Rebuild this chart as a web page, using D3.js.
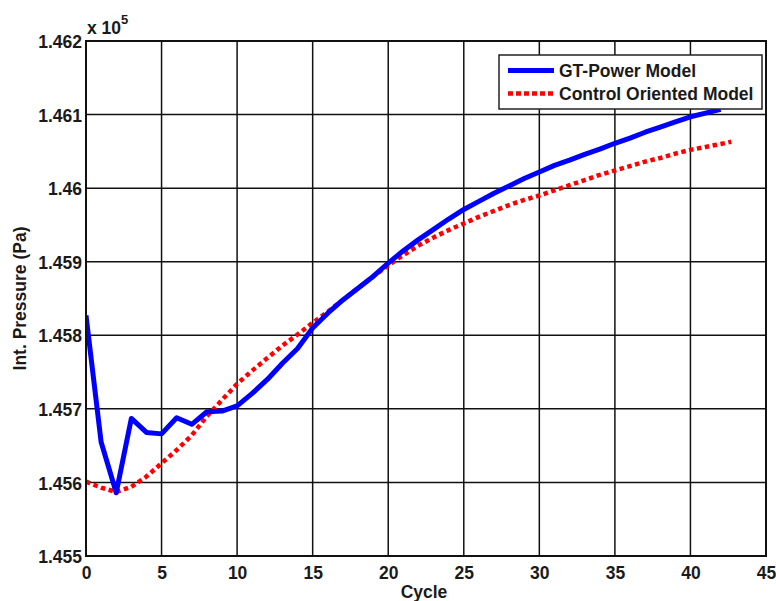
<!DOCTYPE html>
<html><head><meta charset="utf-8">
<script src="https://cdnjs.cloudflare.com/ajax/libs/d3/7.8.5/d3.min.js"></script>
<style>body{margin:0;background:#fff;} text{font-family:"Liberation Sans",Arial,sans-serif;font-weight:bold;fill:#1a1a1a;}</style>
</head><body><svg id="c" width="776" height="601"></svg>
<script>
const gtCycles = d3.range(0, 43);
const gtValues = [1.45827,1.45655,1.45586,1.45687,1.45668,1.45666,1.45688,1.45679,1.45696,1.45697,
  1.45704,1.45721,1.45740,1.45762,1.45782,1.45810,1.45830,1.45848,1.45864,1.45880,
  1.45898,1.45915,1.45930,1.45944,1.45958,1.45971,1.45982,1.45993,1.46003,1.46013,
  1.46022,1.46031,1.46038,1.46046,1.46053,1.46061,1.46068,1.46076,1.46083,1.46090,
  1.46097,1.46102,1.46107];
const coCycles = d3.range(0, 43).concat([42.7]);
const coValues = [1.45601,1.45593,1.45587,1.45594,1.45608,1.45626,1.45644,1.45664,1.45690,1.45712,
  1.45734,1.45752,1.45769,1.45786,1.45801,1.45817,1.45832,1.45848,1.45864,1.45880,
  1.45895,1.45909,1.45922,1.45933,1.45943,1.45952,1.45961,1.45969,1.45977,1.45984,
  1.45990,1.45997,1.46004,1.46011,1.46018,1.46024,1.46030,1.46036,1.46041,1.46047,
  1.46052,1.46056,1.46060,1.46063];
const xTicks = [0,5,10,15,20,25,30,35,40,45];
const yTicks = [1.455,1.456,1.457,1.458,1.459,1.460,1.461,1.462];
const yTickLabels = ["1.455","1.456","1.457","1.458","1.459","1.46","1.461","1.462"];
const seriesNames = ["GT-Power Model","Control Oriented Model"];

const L=86, R=766, T=41, B=556;
const svg = d3.select("#c");
const x = d3.scaleLinear().domain([0,45]).range([L,R]);
const y = d3.scaleLinear().domain([1.455,1.462]).range([B,T]);

// grid
svg.append("g").selectAll("line").data(xTicks).join("line")
  .attr("x1",d=>x(d)).attr("x2",d=>x(d)).attr("y1",T).attr("y2",B)
  .attr("stroke","#111").attr("stroke-width",1.5);
svg.append("g").selectAll("line").data(yTicks).join("line")
  .attr("y1",d=>y(d)).attr("y2",d=>y(d)).attr("x1",L).attr("x2",R)
  .attr("stroke","#111").attr("stroke-width",1.5);

// axes
const xa = svg.append("g").attr("transform",`translate(0,${B})`)
  .call(d3.axisBottom(x).tickValues(xTicks).tickSize(0).tickPadding(7).tickFormat(d3.format("d")));
const ya = svg.append("g").attr("transform",`translate(${L},0)`)
  .call(d3.axisLeft(y).tickValues(yTicks).tickSize(0).tickPadding(4).tickFormat((d,i)=>yTickLabels[i]));
[xa,ya].forEach(a=>{a.select(".domain").remove(); a.selectAll("text").attr("font-size",17.5).attr("fill","#1a1a1a")
  .style("font-family","'Liberation Sans',Arial,sans-serif").style("font-weight","bold");});
xa.selectAll("text").attr("dy","0.9em");
ya.selectAll("text").attr("dy","0.38em");

// lines
const clip = svg.append("clipPath").attr("id","cp").append("rect").attr("x",L).attr("y",T).attr("width",R-L).attr("height",B-T);
const line = d3.line().x(d=>x(d[0])).y(d=>y(d[1]));
svg.append("path").attr("clip-path","url(#cp)")
  .datum(coCycles.map((c,i)=>[c,coValues[i]]))
  .attr("d",line).attr("fill","none").attr("stroke","#ff0000").attr("stroke-width",4.5)
  .attr("stroke-dasharray","4.5,3.5");
svg.append("path").attr("clip-path","url(#cp)")
  .datum(gtCycles.map((c,i)=>[c,gtValues[i]]))
  .attr("d",line).attr("fill","none").attr("stroke","#0000ff").attr("stroke-width",5)
  .attr("stroke-linejoin","round");

// frame
svg.append("rect").attr("x",L).attr("y",T).attr("width",R-L).attr("height",B-T)
  .attr("fill","none").attr("stroke","#111").attr("stroke-width",2);

// exponent
const ex = svg.append("text").attr("x",87).attr("y",34).attr("font-size",17.5);
ex.append("tspan").text("x 10");
ex.append("tspan").attr("font-size",13).attr("dy",-10).text("5");

// axis labels
svg.append("text").attr("x",(L+R)/2-2).attr("y",598).attr("text-anchor","middle").attr("font-size",17.5).text("Cycle");
svg.append("text").attr("transform",`translate(26,${(T+B)/2}) rotate(-90)`).attr("text-anchor","middle")
  .attr("font-size",17.5).text("Int. Pressure (Pa)");

// legend
const lg = svg.append("g");
lg.append("rect").attr("x",499).attr("y",55).attr("width",263).attr("height",54)
  .attr("fill","#fff").attr("stroke","#222").attr("stroke-width",1.5);
lg.append("line").attr("x1",508).attr("x2",554).attr("y1",70.5).attr("y2",70.5)
  .attr("stroke","#0000ff").attr("stroke-width",5);
lg.append("line").attr("x1",508).attr("x2",554).attr("y1",93.5).attr("y2",93.5)
  .attr("stroke","#ff0000").attr("stroke-width",4.5).attr("stroke-dasharray","5,3");
lg.append("text").attr("x",559).attr("y",77).attr("font-size",17.5).text(seriesNames[0]);
lg.append("text").attr("x",559).attr("y",100).attr("font-size",17.5).text(seriesNames[1]);
</script></body></html>
